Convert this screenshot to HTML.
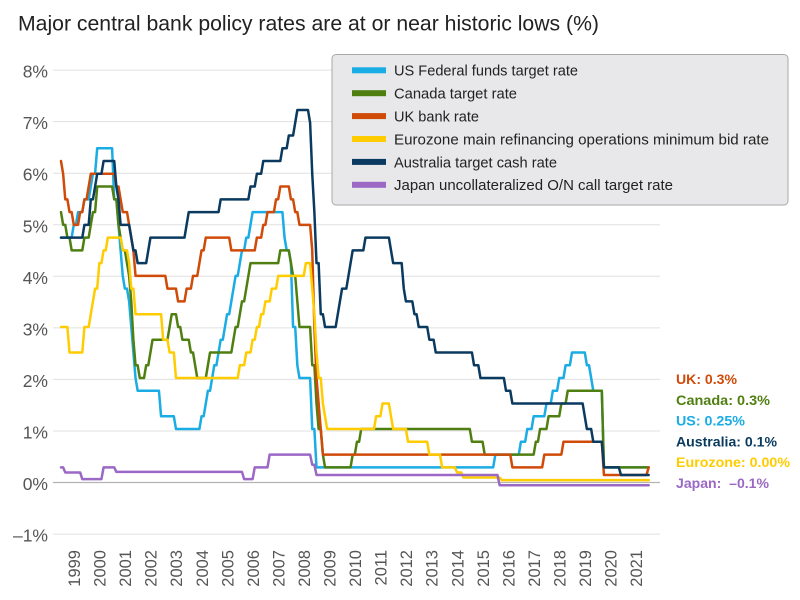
<!DOCTYPE html>
<html>
<head>
<meta charset="utf-8">
<style>
  html,body{margin:0;padding:0;background:#fff;}
  svg{display:block;}
  text{font-family:"Liberation Sans",Arial,sans-serif;}
</style>
</head>
<body>
<svg id="chart" width="800" height="600" viewBox="0 0 800 600" xmlns="http://www.w3.org/2000/svg">
  <rect x="0" y="0" width="800" height="600" fill="#ffffff"/>
  <text x="18" y="30.5" font-size="21" fill="#222" textLength="581" lengthAdjust="spacingAndGlyphs">Major central bank policy rates are at or near historic lows (%)</text>

  <!-- gridlines -->
  <g stroke="#e0e0e0" stroke-width="1">
    <line x1="53" y1="70.1" x2="660" y2="70.1"/>
    <line x1="53" y1="121.6" x2="660" y2="121.6"/>
    <line x1="53" y1="173.2" x2="660" y2="173.2"/>
    <line x1="53" y1="224.8" x2="660" y2="224.8"/>
    <line x1="53" y1="276.3" x2="660" y2="276.3"/>
    <line x1="53" y1="327.9" x2="660" y2="327.9"/>
    <line x1="53" y1="379.4" x2="660" y2="379.4"/>
    <line x1="53" y1="431.0" x2="660" y2="431.0"/>
    <line x1="53" y1="534.1" x2="660" y2="534.1"/>
  </g>
  <line x1="53" y1="482.5" x2="660" y2="482.5" stroke="#b4b4b4" stroke-width="1.2"/>

  <!-- y tick labels -->
  <g font-size="17.5" fill="#555" text-anchor="end">
    <text x="48" y="77.6">8%</text>
    <text x="48" y="129.1">7%</text>
    <text x="48" y="180.7">6%</text>
    <text x="48" y="232.3">5%</text>
    <text x="48" y="283.8">4%</text>
    <text x="48" y="335.4">3%</text>
    <text x="48" y="386.9">2%</text>
    <text x="48" y="438.5">1%</text>
    <text x="48" y="490.0">0%</text>
    <text x="48" y="541.6">–1%</text>
  </g>

  <!-- x tick labels -->
  <g id="xlabels" font-size="16.5" fill="#555" text-anchor="end"></g>

  <!-- series -->
  <g id="series" fill="none" stroke-width="2.5" stroke-linejoin="round" stroke-linecap="round"></g>

  <!-- legend -->
  <rect x="332" y="54.5" width="456" height="150.5" rx="4" ry="4" fill="#e8e8ea" stroke="#a9a9a9" stroke-width="1"/>
  <rect x="352" y="67.3" width="34" height="6" fill="#1aace4"/>
  <rect x="352" y="90.2" width="34" height="6" fill="#4f7f10"/>
  <rect x="352" y="113.1" width="34" height="6" fill="#d04a08"/>
  <rect x="352" y="136.0" width="34" height="6" fill="#ffcc00"/>
  <rect x="352" y="158.9" width="34" height="6" fill="#0a3a5f"/>
  <rect x="352" y="181.8" width="34" height="6" fill="#9b68c6"/>
  <g font-size="14.6" fill="#222">
    <text x="394" y="75.7" textLength="184" lengthAdjust="spacingAndGlyphs">US Federal funds target rate</text>
    <text x="394" y="98.6" textLength="123" lengthAdjust="spacingAndGlyphs">Canada target rate</text>
    <text x="394" y="121.5" textLength="85" lengthAdjust="spacingAndGlyphs">UK bank rate</text>
    <text x="394" y="144.4" textLength="375" lengthAdjust="spacingAndGlyphs">Eurozone main refinancing operations minimum bid rate</text>
    <text x="394" y="167.3" textLength="163" lengthAdjust="spacingAndGlyphs">Australia target cash rate</text>
    <text x="394" y="190.2" textLength="279" lengthAdjust="spacingAndGlyphs">Japan uncollateralized O/N call target rate</text>
  </g>

  <!-- right labels -->
  <g font-size="14" font-weight="bold">
    <text x="676" y="384" fill="#d04a08" textLength="61" lengthAdjust="spacingAndGlyphs">UK: 0.3%</text>
    <text x="676" y="404.8" fill="#4f7f10" textLength="94" lengthAdjust="spacingAndGlyphs">Canada: 0.3%</text>
    <text x="676" y="425.6" fill="#1aace4" textLength="69" lengthAdjust="spacingAndGlyphs">US: 0.25%</text>
    <text x="676" y="446.4" fill="#0a3a5f" textLength="101" lengthAdjust="spacingAndGlyphs">Australia: 0.1%</text>
    <text x="676" y="467.2" fill="#ffcc00" textLength="114" lengthAdjust="spacingAndGlyphs">Eurozone: 0.00%</text>
    <text x="676" y="488" fill="#9b68c6" textLength="93" lengthAdjust="spacingAndGlyphs" xml:space="preserve">Japan:  –0.1%</text>
  </g>
</svg>
<script>
(function(){
  var NS="http://www.w3.org/2000/svg";
  var X=function(t){return 61+25.55*(t-1999);};
  var Y=function(v){return 480.1-51.05*v;};
  var xl=document.getElementById('xlabels');
  for(var i=0;i<=22;i++){
    var bx=80+25.55*i;
    var tx=document.createElementNS(NS,'text');
    tx.setAttribute('transform','translate('+bx.toFixed(1)+',550) rotate(-90)');
    tx.textContent=String(1999+i);
    xl.appendChild(tx);
  }
  var S={
    us:[[1998,11,17,4.75],[1999,6,30,5.0],[1999,8,24,5.25],[1999,11,16,5.5],[2000,2,2,5.75],[2000,3,21,6.0],[2000,5,16,6.5],[2001,1,3,6.0],[2001,1,31,5.5],[2001,3,20,5.0],[2001,4,18,4.5],[2001,5,15,4.0],[2001,6,27,3.75],[2001,8,21,3.5],[2001,9,17,3.0],[2001,10,2,2.5],[2001,11,6,2.0],[2001,12,11,1.75],[2002,11,6,1.25],[2003,6,25,1.0],[2004,6,30,1.25],[2004,8,10,1.5],[2004,9,21,1.75],[2004,11,10,2.0],[2004,12,14,2.25],[2005,2,2,2.5],[2005,3,22,2.75],[2005,5,3,3.0],[2005,6,30,3.25],[2005,8,9,3.5],[2005,9,20,3.75],[2005,11,1,4.0],[2005,12,13,4.25],[2006,1,31,4.5],[2006,3,28,4.75],[2006,5,10,5.0],[2006,6,29,5.25],[2007,9,18,4.75],[2007,10,31,4.5],[2007,12,11,4.25],[2008,1,22,3.5],[2008,1,30,3.0],[2008,3,18,2.25],[2008,4,30,2.0],[2008,10,8,1.5],[2008,10,29,1.0],[2008,12,16,0.25],[2015,12,16,0.5],[2016,12,14,0.75],[2017,3,15,1.0],[2017,6,14,1.25],[2017,12,13,1.5],[2018,3,21,1.75],[2018,6,13,2.0],[2018,9,26,2.25],[2018,12,19,2.5],[2019,7,31,2.25],[2019,9,18,2.0],[2019,10,30,1.75],[2020,3,3,1.25],[2020,3,15,0.25]],
    ca:[[1998,11,18,5.25],[1999,1,2,5.0],[1999,3,31,4.75],[1999,5,4,4.5],[1999,11,17,4.75],[2000,2,3,5.0],[2000,3,22,5.25],[2000,5,17,5.75],[2001,1,23,5.5],[2001,3,6,5.0],[2001,4,17,4.75],[2001,5,29,4.5],[2001,7,17,4.25],[2001,8,28,4.0],[2001,9,17,3.5],[2001,10,23,2.75],[2001,11,27,2.25],[2002,1,15,2.0],[2002,4,16,2.25],[2002,6,4,2.5],[2002,7,16,2.75],[2003,3,4,3.0],[2003,4,15,3.25],[2003,7,15,3.0],[2003,9,3,2.75],[2004,1,20,2.5],[2004,3,2,2.25],[2004,4,13,2.0],[2004,9,8,2.25],[2004,10,19,2.5],[2005,9,7,2.75],[2005,10,18,3.0],[2005,12,6,3.25],[2006,1,24,3.5],[2006,3,7,3.75],[2006,4,25,4.0],[2006,5,24,4.25],[2007,7,10,4.5],[2007,12,4,4.25],[2008,1,22,4.0],[2008,3,4,3.5],[2008,4,22,3.0],[2008,10,8,2.5],[2008,10,21,2.25],[2008,12,9,1.5],[2009,1,20,1.0],[2009,3,3,0.5],[2009,4,21,0.25],[2010,6,1,0.5],[2010,7,20,0.75],[2010,9,8,1.0],[2015,1,21,0.75],[2015,7,15,0.5],[2017,7,12,0.75],[2017,9,6,1.0],[2018,1,17,1.25],[2018,7,11,1.5],[2018,10,24,1.75],[2020,3,4,1.25],[2020,3,13,0.75],[2020,3,27,0.25]],
    uk:[[1998,12,10,6.25],[1999,1,7,6.0],[1999,2,4,5.5],[1999,4,8,5.25],[1999,6,10,5.0],[1999,9,8,5.25],[1999,11,4,5.5],[2000,1,13,5.75],[2000,2,10,6.0],[2001,2,8,5.75],[2001,4,5,5.5],[2001,5,10,5.25],[2001,8,2,5.0],[2001,9,18,4.75],[2001,10,4,4.5],[2001,11,8,4.0],[2003,2,6,3.75],[2003,7,10,3.5],[2003,11,6,3.75],[2004,2,5,4.0],[2004,5,6,4.25],[2004,6,10,4.5],[2004,8,5,4.75],[2005,8,4,4.5],[2006,8,3,4.75],[2006,11,9,5.0],[2007,1,11,5.25],[2007,5,10,5.5],[2007,7,5,5.75],[2007,12,6,5.5],[2008,2,7,5.25],[2008,4,10,5.0],[2008,10,8,4.5],[2008,11,6,3.0],[2008,12,4,2.0],[2009,1,8,1.5],[2009,2,5,1.0],[2009,3,5,0.5],[2016,8,4,0.25],[2017,11,2,0.5],[2018,8,2,0.75],[2020,3,11,0.25],[2020,3,19,0.1],[2021,12,16,0.25]],
    eu:[[1999,1,1,3.0],[1999,4,9,2.5],[1999,11,10,3.0],[2000,2,4,3.25],[2000,3,17,3.5],[2000,4,28,3.75],[2000,6,9,4.25],[2000,9,1,4.5],[2000,10,11,4.75],[2001,5,11,4.5],[2001,8,31,4.25],[2001,9,18,3.75],[2001,11,9,3.25],[2002,12,6,2.75],[2003,3,7,2.5],[2003,6,6,2.0],[2005,12,6,2.25],[2006,3,8,2.5],[2006,6,15,2.75],[2006,8,9,3.0],[2006,10,11,3.25],[2006,12,13,3.5],[2007,3,14,3.75],[2007,6,13,4.0],[2008,7,9,4.25],[2008,10,15,3.75],[2008,11,12,3.25],[2008,12,10,2.5],[2009,1,21,2.0],[2009,3,11,1.5],[2009,4,8,1.25],[2009,5,13,1.0],[2011,4,13,1.25],[2011,7,13,1.5],[2011,11,9,1.25],[2011,12,14,1.0],[2012,7,11,0.75],[2013,5,8,0.5],[2013,11,13,0.25],[2014,6,11,0.15],[2014,9,10,0.05],[2016,3,16,0.0]],
    au:[[1998,12,2,4.75],[1999,11,3,5.0],[2000,2,2,5.5],[2000,4,5,5.75],[2000,5,3,6.0],[2000,8,2,6.25],[2001,2,7,5.75],[2001,3,7,5.5],[2001,4,4,5.0],[2001,9,5,4.75],[2001,10,3,4.5],[2001,12,5,4.25],[2002,5,8,4.5],[2002,6,5,4.75],[2003,11,5,5.0],[2003,12,3,5.25],[2005,3,2,5.5],[2006,5,3,5.75],[2006,8,2,6.0],[2006,11,8,6.25],[2007,8,8,6.5],[2007,11,7,6.75],[2008,2,6,7.0],[2008,3,5,7.25],[2008,9,3,7.0],[2008,10,8,6.0],[2008,11,5,5.25],[2008,12,3,4.25],[2009,2,4,3.25],[2009,4,8,3.0],[2009,10,7,3.25],[2009,11,4,3.5],[2009,12,2,3.75],[2010,3,3,4.0],[2010,4,7,4.25],[2010,5,5,4.5],[2010,11,3,4.75],[2011,11,2,4.5],[2011,12,7,4.25],[2012,5,2,3.75],[2012,6,6,3.5],[2012,10,3,3.25],[2012,12,5,3.0],[2013,5,8,2.75],[2013,8,7,2.5],[2015,2,4,2.25],[2015,5,6,2.0],[2016,5,4,1.75],[2016,8,3,1.5],[2019,6,5,1.25],[2019,7,3,1.0],[2019,10,2,0.75],[2020,3,4,0.5],[2020,3,20,0.25],[2020,11,4,0.1]],
    jp:[[1998,9,9,0.25],[1999,2,12,0.15],[1999,10,15,0.02],[2000,8,11,0.25],[2001,2,28,0.16],[2006,2,15,0.02],[2006,7,14,0.25],[2007,2,21,0.5],[2008,10,31,0.3],[2008,12,19,0.1],[2016,2,16,-0.1]]
  };
  var cols={us:'#1aace4',ca:'#4f7f10',uk:'#d04a08',eu:'#ffcc00',au:'#0a3a5f',jp:'#9b68c6'};
  var order=['us','ca','uk','eu','au','jp'];
  var g=document.getElementById('series');
  order.forEach(function(k){
    var ch=S[k].map(function(c){return [c[0]+(c[1]-1)/12+(c[2]-1)/365,c[3]];});
    var d='';
    for(var m=0;m<=276;m++){
      var t=1999+m/12, v=ch[0][1];
      for(var j=0;j<ch.length;j++){ if(ch[j][0]<=t+1e-9) v=ch[j][1]; }
      d+=(m?'L':'M')+X(t).toFixed(2)+' '+Y(v).toFixed(2);
    }
    var p=document.createElementNS(NS,'path');
    p.setAttribute('d',d);
    p.setAttribute('stroke',cols[k]);
    g.appendChild(p);
  });
})();
</script>
</body>
</html>
